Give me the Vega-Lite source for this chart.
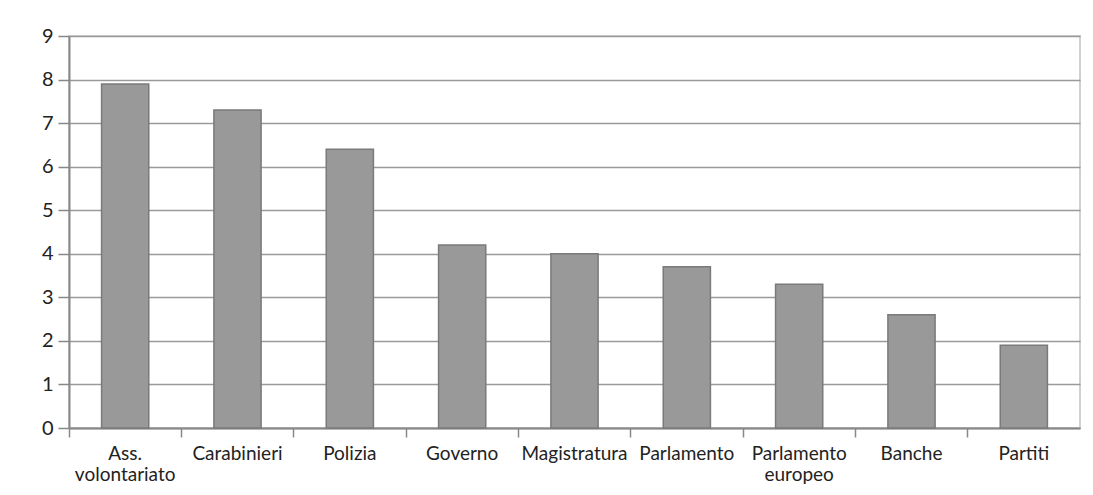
{
  "$schema": "https://vega.github.io/schema/vega-lite/v6.json",
  "width": 1011,
  "height": 392,
  "autosize": "none",
  "padding": {"left": 69, "top": 36, "right": 13, "bottom": 67},
  "background": "white",
  "config": {
    "view": {"stroke": "#d0d0d0", "strokeWidth": 2},
    "font": "Lato"
  },
  "data": {
    "values": [
      {"categoria": "Ass. volontariato", "valore": 7.9},
      {"categoria": "Carabinieri", "valore": 7.3},
      {"categoria": "Polizia", "valore": 6.4},
      {"categoria": "Governo", "valore": 4.2},
      {"categoria": "Magistratura", "valore": 4.0},
      {"categoria": "Parlamento", "valore": 3.7},
      {"categoria": "Parlamento europeo", "valore": 3.3},
      {"categoria": "Banche", "valore": 2.6},
      {"categoria": "Partiti", "valore": 1.9}
    ]
  },
  "mark": {"type": "bar", "color": "#999999", "stroke": "#7a7a7a", "strokeWidth": 1.5, "width": {"band": 0.42}},
  "encoding": {
    "x": {
      "field": "categoria",
      "type": "nominal",
      "sort": null,
      "scale": {"paddingInner": 0, "paddingOuter": 0},
      "axis": {
        "title": null,
        "labelAngle": 0,
        "labelExpr": "split(datum.label, ' ')",
        "labelFontSize": 19,
        "labelColor": "#222222",
        "labelFont": "Lato",
        "labelPadding": 7,
        "labelLineHeight": 21,
        "labelOverlap": false,
        "bandPosition": 0,
        "tickSize": 9,
        "tickColor": "#888888",
        "tickWidth": 1.5,
        "domainColor": "#888888",
        "domainWidth": 2,
        "grid": false
      }
    },
    "y": {
      "field": "valore",
      "type": "quantitative",
      "scale": {"domain": [0, 9], "nice": false},
      "axis": {
        "title": null,
        "values": [0, 1, 2, 3, 4, 5, 6, 7, 8, 9],
        "labelFontSize": 20,
        "labelColor": "#222222",
        "labelFont": "Lato",
        "labelPadding": 5,
        "tickSize": 11,
        "tickColor": "#888888",
        "tickWidth": 1.5,
        "domainColor": "#888888",
        "domainWidth": 2,
        "grid": true,
        "gridColor": "#9a9a9a",
        "gridWidth": 1.5,
        "gridOpacity": 1
      }
    }
  }
}
